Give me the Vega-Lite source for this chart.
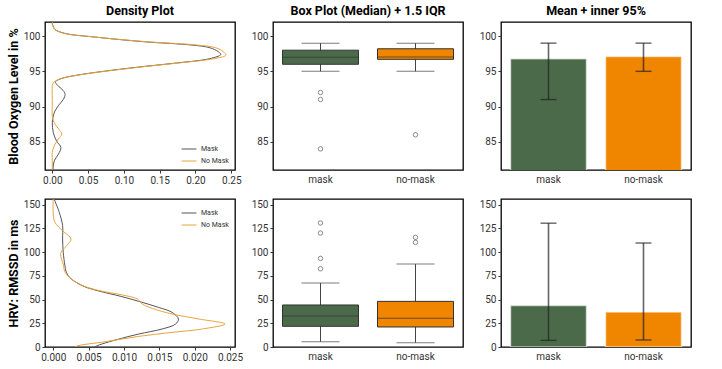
{
  "$schema": "https://vega.github.io/schema/vega-lite/v6.json",
  "background": "white",
  "padding": {"left": 6, "top": 3, "right": 5, "bottom": 5},
  "config": {
    "font": "Roboto",
    "view": {"stroke": "black", "strokeWidth": 1.3},
    "axis": {"grid": false, "domain": false, "labelFontSize": 10, "labelColor": "#333333", "tickColor": "#333333", "tickSize": 3, "labelPadding": 2, "labelOverlap": false, "titleFontSize": 12.5, "titleFontWeight": "bold", "titleColor": "black", "titlePadding": 3},
    "title": {"fontSize": 12.5, "fontWeight": "bold", "offset": 5, "color": "black"}
  },
  "datasets": {
    "spo2_density": [
      {"group": "Mask", "value": 102, "density": 0.0},
      {"group": "Mask", "value": 101.66, "density": 0.0003},
      {"group": "Mask", "value": 100.95, "density": 0.0038},
      {"group": "Mask", "value": 100.38, "density": 0.0178},
      {"group": "Mask", "value": 99.86, "density": 0.06},
      {"group": "Mask", "value": 99.2, "density": 0.128},
      {"group": "Mask", "value": 98.73, "density": 0.195},
      {"group": "Mask", "value": 98.35, "density": 0.22},
      {"group": "Mask", "value": 97.78, "density": 0.232},
      {"group": "Mask", "value": 97.4, "density": 0.2355},
      {"group": "Mask", "value": 96.8, "density": 0.22},
      {"group": "Mask", "value": 96.2, "density": 0.175},
      {"group": "Mask", "value": 95.7, "density": 0.129},
      {"group": "Mask", "value": 95.14, "density": 0.082},
      {"group": "Mask", "value": 94.48, "density": 0.036},
      {"group": "Mask", "value": 94.0, "density": 0.0135},
      {"group": "Mask", "value": 93.53, "density": 0.0045},
      {"group": "Mask", "value": 93.16, "density": 0.006},
      {"group": "Mask", "value": 92.9, "density": 0.0085},
      {"group": "Mask", "value": 92.3, "density": 0.015},
      {"group": "Mask", "value": 91.74, "density": 0.0178},
      {"group": "Mask", "value": 91.03, "density": 0.0155},
      {"group": "Mask", "value": 90.2, "density": 0.009},
      {"group": "Mask", "value": 89.38, "density": 0.0038},
      {"group": "Mask", "value": 88.67, "density": 0.0014},
      {"group": "Mask", "value": 87.72, "density": 0.0},
      {"group": "Mask", "value": 86.3, "density": 0.0014},
      {"group": "Mask", "value": 85.1, "density": 0.006},
      {"group": "Mask", "value": 84.2, "density": 0.012},
      {"group": "Mask", "value": 83.24, "density": 0.0085},
      {"group": "Mask", "value": 82.3, "density": 0.0028},
      {"group": "Mask", "value": 81.1, "density": 0.001},
      {"group": "Mask", "value": 80.5, "density": 0.0008},
      {"group": "No Mask", "value": 102, "density": 0.0},
      {"group": "No Mask", "value": 101.66, "density": 0.0002},
      {"group": "No Mask", "value": 100.95, "density": 0.0035},
      {"group": "No Mask", "value": 100.38, "density": 0.017},
      {"group": "No Mask", "value": 99.86, "density": 0.06},
      {"group": "No Mask", "value": 99.2, "density": 0.132},
      {"group": "No Mask", "value": 98.73, "density": 0.202},
      {"group": "No Mask", "value": 98.35, "density": 0.228},
      {"group": "No Mask", "value": 97.78, "density": 0.239},
      {"group": "No Mask", "value": 97.3, "density": 0.2426},
      {"group": "No Mask", "value": 96.8, "density": 0.226},
      {"group": "No Mask", "value": 96.2, "density": 0.178},
      {"group": "No Mask", "value": 95.7, "density": 0.131},
      {"group": "No Mask", "value": 95.14, "density": 0.084},
      {"group": "No Mask", "value": 94.48, "density": 0.037},
      {"group": "No Mask", "value": 94.0, "density": 0.013},
      {"group": "No Mask", "value": 93.53, "density": 0.003},
      {"group": "No Mask", "value": 93.2, "density": 0.0005},
      {"group": "No Mask", "value": 93.0, "density": 0.0},
      {"group": "No Mask", "value": 90.5, "density": 0.0},
      {"group": "No Mask", "value": 88.6, "density": 0.0},
      {"group": "No Mask", "value": 88.0, "density": 0.0015},
      {"group": "No Mask", "value": 87.5, "density": 0.0038},
      {"group": "No Mask", "value": 86.8, "density": 0.009},
      {"group": "No Mask", "value": 86.1, "density": 0.0132},
      {"group": "No Mask", "value": 85.4, "density": 0.0085},
      {"group": "No Mask", "value": 84.66, "density": 0.0038},
      {"group": "No Mask", "value": 83.95, "density": 0.001},
      {"group": "No Mask", "value": 83.5, "density": 0.0},
      {"group": "No Mask", "value": 82.0, "density": 0.0},
      {"group": "No Mask", "value": 80.5, "density": 0.0}
    ],
    "hrv_density": [
      {"group": "Mask", "value": 158, "density": 0.0001},
      {"group": "Mask", "value": 156, "density": 0.00014},
      {"group": "Mask", "value": 141.9, "density": 0.00085},
      {"group": "Mask", "value": 127.9, "density": 0.00132},
      {"group": "Mask", "value": 113.8, "density": 0.00132},
      {"group": "Mask", "value": 99.7, "density": 0.00141},
      {"group": "Mask", "value": 85.7, "density": 0.00165},
      {"group": "Mask", "value": 80.0, "density": 0.0018},
      {"group": "Mask", "value": 73.4, "density": 0.0023},
      {"group": "Mask", "value": 64.6, "density": 0.0041},
      {"group": "Mask", "value": 59.3, "density": 0.0063},
      {"group": "Mask", "value": 53.3, "density": 0.0096},
      {"group": "Mask", "value": 48.1, "density": 0.0121},
      {"group": "Mask", "value": 41.7, "density": 0.0149},
      {"group": "Mask", "value": 36.5, "density": 0.0168},
      {"group": "Mask", "value": 29.5, "density": 0.0177},
      {"group": "Mask", "value": 24.2, "density": 0.0173},
      {"group": "Mask", "value": 19.0, "density": 0.0154},
      {"group": "Mask", "value": 13.7, "density": 0.0121},
      {"group": "Mask", "value": 8.4, "density": 0.0093},
      {"group": "Mask", "value": 0.6, "density": 0.006},
      {"group": "Mask", "value": -1, "density": 0.0058},
      {"group": "No Mask", "value": 158, "density": 0.0},
      {"group": "No Mask", "value": 140.2, "density": 0.0},
      {"group": "No Mask", "value": 131.3, "density": 0.00024},
      {"group": "No Mask", "value": 122.6, "density": 0.00132},
      {"group": "No Mask", "value": 113.8, "density": 0.0025},
      {"group": "No Mask", "value": 106.8, "density": 0.00189},
      {"group": "No Mask", "value": 99.7, "density": 0.00109},
      {"group": "No Mask", "value": 94.4, "density": 0.00109},
      {"group": "No Mask", "value": 87.5, "density": 0.00141},
      {"group": "No Mask", "value": 80.0, "density": 0.0016},
      {"group": "No Mask", "value": 73.4, "density": 0.00225},
      {"group": "No Mask", "value": 64.6, "density": 0.0042},
      {"group": "No Mask", "value": 59.3, "density": 0.0066},
      {"group": "No Mask", "value": 54.8, "density": 0.0098},
      {"group": "No Mask", "value": 50.6, "density": 0.0119},
      {"group": "No Mask", "value": 45.3, "density": 0.0126},
      {"group": "No Mask", "value": 40.7, "density": 0.014},
      {"group": "No Mask", "value": 34.8, "density": 0.0168},
      {"group": "No Mask", "value": 29.5, "density": 0.0206},
      {"group": "No Mask", "value": 24.2, "density": 0.0243},
      {"group": "No Mask", "value": 19.0, "density": 0.0211},
      {"group": "No Mask", "value": 15.4, "density": 0.0168},
      {"group": "No Mask", "value": 11.2, "density": 0.0121},
      {"group": "No Mask", "value": 5.6, "density": 0.0074},
      {"group": "No Mask", "value": 0.6, "density": 0.0032},
      {"group": "No Mask", "value": -1, "density": 0.003}
    ],
    "spo2_box": [
      {"group": "mask", "lo": 95, "q1": 96, "median": 97, "q3": 98, "hi": 99},
      {"group": "no-mask", "lo": 95, "q1": 96.7, "median": 97.05, "q3": 98.2, "hi": 99}
    ],
    "spo2_out": [
      {"group": "mask", "value": 92},
      {"group": "mask", "value": 91},
      {"group": "mask", "value": 84},
      {"group": "no-mask", "value": 86}
    ],
    "hrv_box": [
      {"group": "mask", "lo": 5.6, "q1": 21.8, "median": 32.7, "q3": 44.3, "hi": 67.4},
      {"group": "no-mask", "lo": 4.6, "q1": 21.1, "median": 30.2, "q3": 48.1, "hi": 87.5}
    ],
    "hrv_out": [
      {"group": "mask", "value": 130.7},
      {"group": "mask", "value": 120.1},
      {"group": "mask", "value": 93.4},
      {"group": "mask", "value": 82.5},
      {"group": "no-mask", "value": 115.6},
      {"group": "no-mask", "value": 110.3}
    ],
    "spo2_mean": [
      {"group": "mask", "mean": 96.8, "lo": 91, "hi": 99},
      {"group": "no-mask", "mean": 97.1, "lo": 95, "hi": 99}
    ],
    "hrv_mean": [
      {"group": "mask", "mean": 43.8, "lo": 7.0, "hi": 130.5},
      {"group": "no-mask", "mean": 36.9, "lo": 7.4, "hi": 109.6}
    ]
  },
  "columns": 3,
  "spacing": {"row": 29, "column": 38},
  "bounds": "flush",
  "resolve": {"scale": {"color": "independent", "x": "independent", "y": "independent"}, "legend": {"color": "independent"}},
  "concat": [
    {
      "width": 190, "height": 148,
      "title": "Density Plot",
      "data": {"name": "spo2_density"},
      "mark": {"type": "line", "interpolate": "catmull-rom", "strokeWidth": 1, "clip": true},
      "encoding": {
        "x": {"field": "density", "type": "quantitative", "scale": {"domain": [-0.0102, 0.2552], "nice": false, "zero": false}, "axis": {"title": null, "values": [0, 0.05, 0.1, 0.15, 0.2, 0.25], "format": ".2f"}},
        "y": {"field": "value", "type": "quantitative", "scale": {"domain": [81, 102], "nice": false, "zero": false}, "axis": {"title": "Blood Oxygen Level in %", "values": [85, 90, 95, 100]}},
        "color": {"field": "group", "type": "nominal", "scale": {"domain": ["Mask", "No Mask"], "range": ["#555555", "#e8a33d"]}, "legend": {"title": null, "orient": "bottom-right", "offset": 4, "labelFontSize": 7, "labelColor": "#333333", "symbolType": "stroke", "symbolSize": 220, "symbolStrokeWidth": 1, "rowPadding": 1, "padding": 2, "labelOffset": 4}},
        "order": {"field": "value", "type": "quantitative", "sort": "descending"}
      }
    },
    {
      "width": 190, "height": 148,
      "title": "Box Plot (Median) + 1.5 IQR",
      "layer": [
        {
          "data": {"name": "spo2_box"},
          "mark": {"type": "rule", "color": "#444444", "strokeWidth": 1},
          "encoding": {
            "x": {"field": "group", "type": "nominal", "scale": {"domain": ["mask", "no-mask"], "paddingInner": 0.2, "paddingOuter": 0.1}, "axis": {"title": null, "labelAngle": 0, "ticks": false, "labelPadding": 4}},
            "y": {"field": "lo", "type": "quantitative", "scale": {"domain": [81, 102], "nice": false, "zero": false}, "axis": {"title": null, "values": [85, 90, 95, 100]}},
            "y2": {"field": "hi"}
          }
        },
        {
          "data": {"name": "spo2_box"},
          "mark": {"type": "bar", "stroke": "#333333", "strokeWidth": 1},
          "encoding": {
            "x": {"field": "group", "type": "nominal", "axis": {"title": null, "labelAngle": 0, "ticks": false, "labelPadding": 4}},
            "y": {"field": "q1", "type": "quantitative", "axis": {"title": null, "values": [85, 90, 95, 100]}},
            "y2": {"field": "q3"},
            "color": {"field": "group", "type": "nominal", "scale": {"domain": ["mask", "no-mask"], "range": ["#4b6a4a", "#f08500"]}, "legend": null}
          }
        },
        {
          "data": {"name": "spo2_box"},
          "mark": {"type": "tick", "color": "#333333", "size": 76, "thickness": 1},
          "encoding": {"x": {"field": "group", "type": "nominal", "axis": {"title": null, "labelAngle": 0, "ticks": false, "labelPadding": 4}}, "y": {"field": "median", "type": "quantitative", "axis": {"title": null, "values": [85, 90, 95, 100]}}}
        },
        {
          "data": {"name": "spo2_box"},
          "mark": {"type": "tick", "color": "#444444", "size": 38, "thickness": 1},
          "encoding": {"x": {"field": "group", "type": "nominal", "axis": {"title": null, "labelAngle": 0, "ticks": false, "labelPadding": 4}}, "y": {"field": "lo", "type": "quantitative", "axis": {"title": null, "values": [85, 90, 95, 100]}}}
        },
        {
          "data": {"name": "spo2_box"},
          "mark": {"type": "tick", "color": "#444444", "size": 38, "thickness": 1},
          "encoding": {"x": {"field": "group", "type": "nominal", "axis": {"title": null, "labelAngle": 0, "ticks": false, "labelPadding": 4}}, "y": {"field": "hi", "type": "quantitative", "axis": {"title": null, "values": [85, 90, 95, 100]}}}
        },
        {
          "data": {"name": "spo2_out"},
          "mark": {"type": "point", "shape": "circle", "filled": false, "color": "#333333", "size": 20, "strokeWidth": 0.8},
          "encoding": {"x": {"field": "group", "type": "nominal", "axis": {"title": null, "labelAngle": 0, "ticks": false, "labelPadding": 4}}, "y": {"field": "value", "type": "quantitative", "axis": {"title": null, "values": [85, 90, 95, 100]}}}
        }
      ]
    },
    {
      "width": 190, "height": 148,
      "title": "Mean + inner 95%",
      "layer": [
        {
          "data": {"name": "spo2_mean"},
          "mark": {"type": "bar", "clip": true, "stroke": "white", "strokeOpacity": 0.6, "strokeWidth": 1.5},
          "encoding": {
            "x": {"field": "group", "type": "nominal", "scale": {"domain": ["mask", "no-mask"], "paddingInner": 0.2, "paddingOuter": 0.1}, "axis": {"title": null, "labelAngle": 0, "ticks": false, "labelPadding": 4}},
            "y": {"field": "mean", "type": "quantitative", "scale": {"domain": [81, 102], "nice": false, "zero": false}, "axis": {"title": null, "values": [85, 90, 95, 100]}},
            "color": {"field": "group", "type": "nominal", "scale": {"domain": ["mask", "no-mask"], "range": ["#4b6a4a", "#f08500"]}, "legend": null}
          }
        },
        {
          "data": {"name": "spo2_mean"},
          "mark": {"type": "rule", "color": "#222222", "opacity": 0.7, "strokeWidth": 1.6},
          "encoding": {"x": {"field": "group", "type": "nominal", "axis": {"title": null, "labelAngle": 0, "ticks": false, "labelPadding": 4}}, "y": {"field": "lo", "type": "quantitative", "axis": {"title": null, "values": [85, 90, 95, 100]}}, "y2": {"field": "hi"}}
        },
        {
          "data": {"name": "spo2_mean"},
          "mark": {"type": "tick", "color": "#222222", "opacity": 0.7, "size": 16, "thickness": 1.4},
          "encoding": {"x": {"field": "group", "type": "nominal", "axis": {"title": null, "labelAngle": 0, "ticks": false, "labelPadding": 4}}, "y": {"field": "lo", "type": "quantitative", "axis": {"title": null, "values": [85, 90, 95, 100]}}}
        },
        {
          "data": {"name": "spo2_mean"},
          "mark": {"type": "tick", "color": "#222222", "opacity": 0.7, "size": 16, "thickness": 1.4},
          "encoding": {"x": {"field": "group", "type": "nominal", "axis": {"title": null, "labelAngle": 0, "ticks": false, "labelPadding": 4}}, "y": {"field": "hi", "type": "quantitative", "axis": {"title": null, "values": [85, 90, 95, 100]}}}
        }
      ]
    },
    {
      "width": 190, "height": 148,
      "data": {"name": "hrv_density"},
      "mark": {"type": "line", "interpolate": "catmull-rom", "strokeWidth": 1, "clip": true},
      "encoding": {
        "x": {"field": "density", "type": "quantitative", "scale": {"domain": [-0.00117, 0.0257], "nice": false, "zero": false}, "axis": {"title": null, "values": [0, 0.005, 0.01, 0.015, 0.02, 0.025], "format": ".3f"}},
        "y": {"field": "value", "type": "quantitative", "scale": {"domain": [0, 156], "nice": false, "zero": false}, "axis": {"title": "HRV: RMSSD in ms", "values": [0, 25, 50, 75, 100, 125, 150]}},
        "color": {"field": "group", "type": "nominal", "scale": {"domain": ["Mask", "No Mask"], "range": ["#555555", "#e8a33d"]}, "legend": {"title": null, "orient": "top-right", "offset": 4, "labelFontSize": 7, "labelColor": "#333333", "symbolType": "stroke", "symbolSize": 220, "symbolStrokeWidth": 1, "rowPadding": 1, "padding": 2, "labelOffset": 4}},
        "order": {"field": "value", "type": "quantitative", "sort": "descending"}
      }
    },
    {
      "width": 190, "height": 148,
      "layer": [
        {
          "data": {"name": "hrv_box"},
          "mark": {"type": "rule", "color": "#444444", "strokeWidth": 1},
          "encoding": {
            "x": {"field": "group", "type": "nominal", "scale": {"domain": ["mask", "no-mask"], "paddingInner": 0.2, "paddingOuter": 0.1}, "axis": {"title": null, "labelAngle": 0, "ticks": false, "labelPadding": 4}},
            "y": {"field": "lo", "type": "quantitative", "scale": {"domain": [0, 156], "nice": false, "zero": false}, "axis": {"title": null, "values": [0, 25, 50, 75, 100, 125, 150]}},
            "y2": {"field": "hi"}
          }
        },
        {
          "data": {"name": "hrv_box"},
          "mark": {"type": "bar", "stroke": "#333333", "strokeWidth": 1},
          "encoding": {
            "x": {"field": "group", "type": "nominal", "axis": {"title": null, "labelAngle": 0, "ticks": false, "labelPadding": 4}},
            "y": {"field": "q1", "type": "quantitative", "axis": {"title": null, "values": [0, 25, 50, 75, 100, 125, 150]}},
            "y2": {"field": "q3"},
            "color": {"field": "group", "type": "nominal", "scale": {"domain": ["mask", "no-mask"], "range": ["#4b6a4a", "#f08500"]}, "legend": null}
          }
        },
        {
          "data": {"name": "hrv_box"},
          "mark": {"type": "tick", "color": "#333333", "size": 76, "thickness": 1},
          "encoding": {"x": {"field": "group", "type": "nominal", "axis": {"title": null, "labelAngle": 0, "ticks": false, "labelPadding": 4}}, "y": {"field": "median", "type": "quantitative", "axis": {"title": null, "values": [0, 25, 50, 75, 100, 125, 150]}}}
        },
        {
          "data": {"name": "hrv_box"},
          "mark": {"type": "tick", "color": "#444444", "size": 38, "thickness": 1},
          "encoding": {"x": {"field": "group", "type": "nominal", "axis": {"title": null, "labelAngle": 0, "ticks": false, "labelPadding": 4}}, "y": {"field": "lo", "type": "quantitative", "axis": {"title": null, "values": [0, 25, 50, 75, 100, 125, 150]}}}
        },
        {
          "data": {"name": "hrv_box"},
          "mark": {"type": "tick", "color": "#444444", "size": 38, "thickness": 1},
          "encoding": {"x": {"field": "group", "type": "nominal", "axis": {"title": null, "labelAngle": 0, "ticks": false, "labelPadding": 4}}, "y": {"field": "hi", "type": "quantitative", "axis": {"title": null, "values": [0, 25, 50, 75, 100, 125, 150]}}}
        },
        {
          "data": {"name": "hrv_out"},
          "mark": {"type": "point", "shape": "circle", "filled": false, "color": "#333333", "size": 20, "strokeWidth": 0.8},
          "encoding": {"x": {"field": "group", "type": "nominal", "axis": {"title": null, "labelAngle": 0, "ticks": false, "labelPadding": 4}}, "y": {"field": "value", "type": "quantitative", "axis": {"title": null, "values": [0, 25, 50, 75, 100, 125, 150]}}}
        }
      ]
    },
    {
      "width": 190, "height": 148,
      "layer": [
        {
          "data": {"name": "hrv_mean"},
          "mark": {"type": "bar", "clip": true, "stroke": "white", "strokeOpacity": 0.6, "strokeWidth": 1.5},
          "encoding": {
            "x": {"field": "group", "type": "nominal", "scale": {"domain": ["mask", "no-mask"], "paddingInner": 0.2, "paddingOuter": 0.1}, "axis": {"title": null, "labelAngle": 0, "ticks": false, "labelPadding": 4}},
            "y": {"field": "mean", "type": "quantitative", "scale": {"domain": [0, 156], "nice": false, "zero": false}, "axis": {"title": null, "values": [0, 25, 50, 75, 100, 125, 150]}},
            "color": {"field": "group", "type": "nominal", "scale": {"domain": ["mask", "no-mask"], "range": ["#4b6a4a", "#f08500"]}, "legend": null}
          }
        },
        {
          "data": {"name": "hrv_mean"},
          "mark": {"type": "rule", "color": "#222222", "opacity": 0.7, "strokeWidth": 1.6},
          "encoding": {"x": {"field": "group", "type": "nominal", "axis": {"title": null, "labelAngle": 0, "ticks": false, "labelPadding": 4}}, "y": {"field": "lo", "type": "quantitative", "axis": {"title": null, "values": [0, 25, 50, 75, 100, 125, 150]}}, "y2": {"field": "hi"}}
        },
        {
          "data": {"name": "hrv_mean"},
          "mark": {"type": "tick", "color": "#222222", "opacity": 0.7, "size": 16, "thickness": 1.4},
          "encoding": {"x": {"field": "group", "type": "nominal", "axis": {"title": null, "labelAngle": 0, "ticks": false, "labelPadding": 4}}, "y": {"field": "lo", "type": "quantitative", "axis": {"title": null, "values": [0, 25, 50, 75, 100, 125, 150]}}}
        },
        {
          "data": {"name": "hrv_mean"},
          "mark": {"type": "tick", "color": "#222222", "opacity": 0.7, "size": 16, "thickness": 1.4},
          "encoding": {"x": {"field": "group", "type": "nominal", "axis": {"title": null, "labelAngle": 0, "ticks": false, "labelPadding": 4}}, "y": {"field": "hi", "type": "quantitative", "axis": {"title": null, "values": [0, 25, 50, 75, 100, 125, 150]}}}
        }
      ]
    }
  ]
}
